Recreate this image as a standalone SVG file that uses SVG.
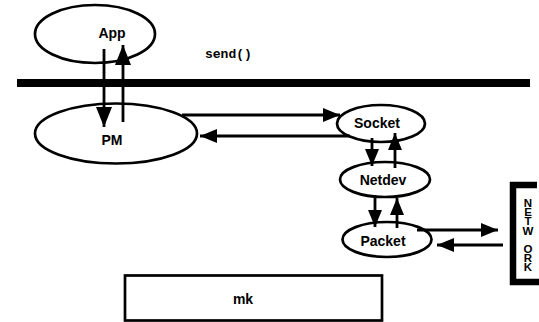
<svg xmlns="http://www.w3.org/2000/svg" width="539" height="322" viewBox="0 0 539 322">
  <defs>
    <marker id="head" markerUnits="userSpaceOnUse" markerWidth="18" markerHeight="14" refX="17" refY="7" orient="auto">
      <path d="M0,0 L17,7 L0,14 Z" fill="#000"/>
    </marker>
    <marker id="headL" markerUnits="userSpaceOnUse" markerWidth="21" markerHeight="16" refX="20" refY="8" orient="auto">
      <path d="M0,0 L20,8 L0,16 Z" fill="#000"/>
    </marker>
  </defs>
  <style>
    .node { fill: #fff; stroke: #000; stroke-width: 2.7; }
    .label { font-family: "Liberation Sans", Arial, sans-serif; font-weight: bold; font-size: 14px; text-anchor: middle; fill: #000; }
    .mono { font-family: "Liberation Mono", "Courier New", monospace; font-weight: bold; font-size: 13px; fill: #000; }
    .net { font-family: "Liberation Sans", Arial, sans-serif; font-weight: bold; font-size: 11.5px; fill: #000;
           writing-mode: vertical-rl; text-orientation: upright; letter-spacing: -2.8px; }
    .edge { fill: none; stroke: #000; stroke-width: 2.8; }
    .small { marker-end: url(#head); }
    .large { marker-end: url(#headL); }
  </style>
  <rect width="539" height="322" fill="#fff"/>

  <!-- user / kernel boundary -->
  <rect x="17" y="79" width="513" height="8" fill="#000"/>
  <text class="mono" x="205" y="58">send()</text>

  <g id="app">
    <ellipse class="node" cx="95" cy="34" rx="60" ry="29"/>
    <text class="label" x="112" y="38">App</text>
  </g>
  <g id="pm">
    <ellipse class="node" cx="116" cy="133.5" rx="81" ry="30"/>
    <text class="label" x="112" y="145">PM</text>
  </g>
  <g id="socket">
    <ellipse class="node" cx="381" cy="123.5" rx="44" ry="18.5"/>
    <text class="label" x="377" y="128">Socket</text>
  </g>
  <g id="netdev">
    <ellipse class="node" cx="385" cy="179.5" rx="45" ry="17.5"/>
    <text class="label" x="383" y="185">Netdev</text>
  </g>
  <g id="packet">
    <ellipse class="node" cx="387" cy="239.5" rx="44.5" ry="17.5"/>
    <text class="label" x="383" y="246">Packet</text>
  </g>
  <g id="mk">
    <rect class="node" x="125" y="275.5" width="257" height="45"/>
    <text class="label" x="243" y="304">mk</text>
  </g>
  <g id="network">
    <path d="M537,185 H513 V282 H539" fill="none" stroke="#000" stroke-width="6.5"/>
    <!-- label runs top to bottom, one upright letter per step -->
    <text class="net" x="528" y="197">NETW ORK</text>
  </g>

  <g id="connectors">
    <path class="edge large" d="M104,49 V127"/>
    <path class="edge large" d="M123,122 V45"/>
    <path class="edge small" d="M182,115 H340"/>
    <path class="edge small" d="M350,136 H200"/>
    <path class="edge small" d="M372,138 V166"/>
    <path class="edge small" d="M395,168 V133"/>
    <path class="edge small" d="M375,195 V227"/>
    <path class="edge small" d="M397,228 V198"/>
    <path class="edge small" d="M417,230 H498"/>
    <path class="edge small" d="M503,245 H437"/>
  </g>
</svg>
